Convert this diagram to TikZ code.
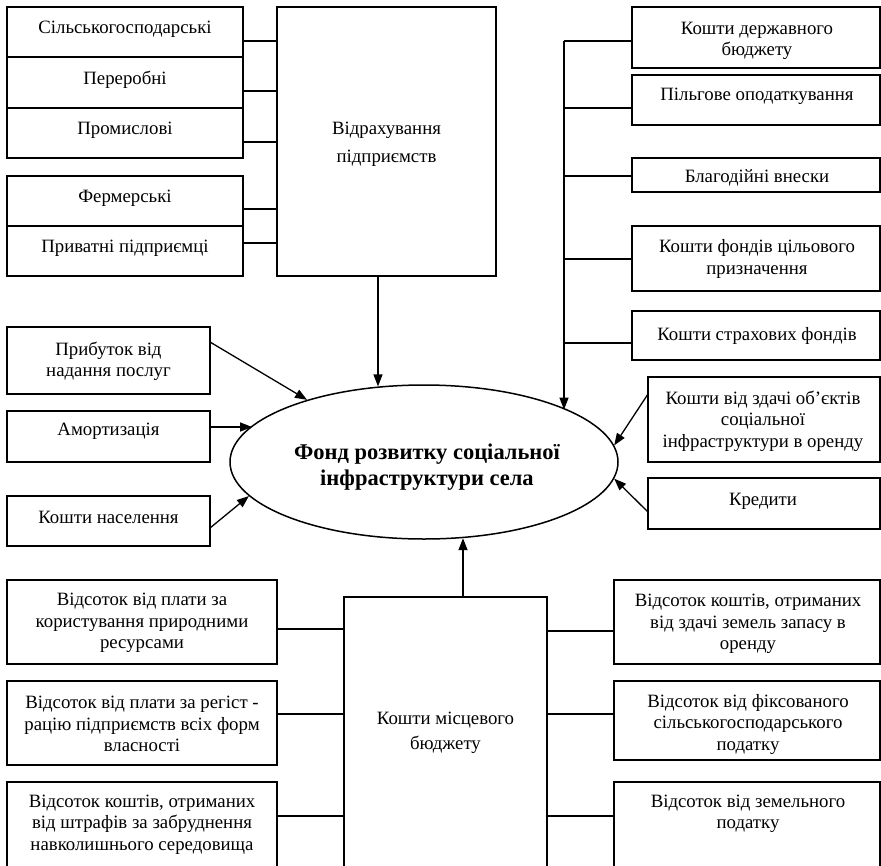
\documentclass[tikz,border=0pt]{standalone}
\usepackage{fontspec}
\setmainfont{Liberation Serif}
\usetikzlibrary{arrows.meta,shapes.geometric}
\begin{document}
\begin{tikzpicture}[x=1pt,y=-1pt,
  box/.style={draw, line width=1.3pt, inner sep=0pt, outer sep=0pt, anchor=north west},
  txt/.style={align=center, inner sep=0pt, yshift=-2pt, font=\fontsize{18.8}{21.5}\selectfont},
  conn/.style={line width=1.3pt},
  arr/.style={line width=1.3pt, -{Triangle[length=12pt,width=9pt]}},
  fundst/.style={draw, ellipse, line width=1.5pt, inner sep=0pt, minimum width=388pt, minimum height=154pt},
]
\useasboundingbox (0,0) rectangle (881,865);

% top-left group
\node[box, minimum width=236pt, minimum height=50pt] (s1) at (7,7) {};
\node[box, minimum width=236pt, minimum height=51pt] (s2) at (7,57) {};
\node[box, minimum width=236pt, minimum height=50pt] (s3) at (7,108) {};
\node[box, minimum width=236pt, minimum height=50pt] (s4) at (7,176) {};
\node[box, minimum width=236pt, minimum height=50pt] (s5) at (7,226) {};
\node[box, minimum width=219pt, minimum height=269pt] (vid) at (277,7) {};
\node[txt] (s1t) at (125,27) {Сільськогосподарські};
\node[txt] (s2t) at (125,78) {Переробні};
\node[txt] (s3t) at (125,128) {Промислові};
\node[txt] (s4t) at (125,196) {Фермерські};
\node[txt] (s5t) at (125,246) {Приватні підприємці};
\node[txt, font=\fontsize{18.8}{28}\selectfont] (vidt) at (386.5,142) {Відрахування\\підприємств};

% top-right group
\node[box, minimum width=248pt, minimum height=61pt] (r1) at (632,7) {};
\node[box, minimum width=248pt, minimum height=50pt] (r2) at (632,75) {};
\node[box, minimum width=248pt, minimum height=34pt] (r3) at (632,158) {};
\node[box, minimum width=248pt, minimum height=65pt] (r4) at (632,226) {};
\node[box, minimum width=248pt, minimum height=49pt] (r5) at (632,311) {};
\node[txt] (r1t) at (757,39) {Кошти державного\\бюджету};
\node[txt] (r2t) at (757,94) {Пільгове оподаткування};
\node[txt] (r3t) at (757,176) {Благодійні внески};
\node[txt] (r4t) at (757,257) {Кошти фондів цільового\\призначення};
\node[txt] (r5t) at (757,334) {Кошти страхових фондів};

% right middle
\node[box, minimum width=232pt, minimum height=85pt] (r6) at (648,377) {};
\node[box, minimum width=232pt, minimum height=51pt] (r7) at (648,478) {};
\node[txt] (r6t) at (763,419) {Кошти від здачі об’єктів\\соціальної\\інфраструктури в оренду};
\node[txt] (r7t) at (763,499) {Кредити};

% left middle
\node[box, minimum width=203pt, minimum height=67pt] (l1) at (7,327) {};
\node[box, minimum width=203pt, minimum height=51pt] (l2) at (7,411) {};
\node[box, minimum width=203pt, minimum height=50pt] (l3) at (7,496) {};
\node[txt] (l1t) at (108.5,359.5) {Прибуток від\\надання послуг};
\node[txt] (l2t) at (108.5,429) {Амортизація};
\node[txt] (l3t) at (108.5,515) {Кошти населення};

% central ellipse
\node[fundst] (fund) at (424,462) {};
\node[txt, font=\fontsize{22.5}{26.5}\selectfont\bfseries] (fundt) at (427,465) {Фонд розвитку соціальної\\інфраструктури села};

% bottom
\node[box, minimum width=203pt, minimum height=290pt] (mb) at (344,597) {};
\node[txt, font=\fontsize{18.8}{25.5}\selectfont] (mbt) at (445.5,731) {Кошти місцевого\\бюджету};
\node[box, minimum width=270pt, minimum height=84pt] (b1) at (7,580) {};
\node[box, minimum width=270pt, minimum height=84pt] (b2) at (7,681) {};
\node[box, minimum width=270pt, minimum height=100pt] (b3) at (7,782) {};
\node[txt] (b1t) at (142,621) {Відсоток від плати за\\користування природними\\ресурсами};
\node[txt] (b2t) at (142,722) {Відсоток від плати за регіст -\\рацію підприємств всіх форм\\власності};
\node[txt] (b3t) at (142,822.5) {Відсоток коштів, отриманих\\від штрафів за забруднення\\навколишнього середовища};
\node[box, minimum width=266pt, minimum height=84pt] (c1) at (614,580) {};
\node[box, minimum width=266pt, minimum height=79pt] (c2) at (614,681) {};
\node[box, minimum width=266pt, minimum height=100pt] (c3) at (614,782) {};
\node[txt] (c1t) at (748,622) {Відсоток коштів, отриманих\\від здачі земель запасу в\\оренду};
\node[txt] (c2t) at (748,722) {Відсоток від фіксованого\\сільськогосподарського\\податку};
\node[txt] (c3t) at (748,812) {Відсоток від земельного\\податку};

% connectors: top-left
\foreach \n/\o in {s1/34,s2/34,s3/34,s4/33,s5/17}{
  \coordinate (\n k) at ([yshift=-\o pt]\n.north east);
  \draw[conn] (\n k) -- (\n k -| vid.west);
}
\coordinate (vk) at ([xshift=-8.5pt]vid.south);
\draw[arr] (vk) -- (vk |- fund.121.8);

% connectors: top-right bus
\coordinate (bus) at (564,41);
\foreach \n/\o in {r1/34,r2/33,r3/18,r4/33,r5/32}{
  \coordinate (\n k) at ([yshift=-\o pt]\n.north west);
  \draw[conn] (bus |- \n k) -- (\n k);
}
\draw[arr] (bus) -- (bus |- fund.20.7);

% side arrows
\coordinate (l1k) at ([yshift=-15pt]l1.north east);
\draw[arr] (l1k) -- (fund.152);
\coordinate (l2k) at ([yshift=-16pt]l2.north east);
\draw[arr] (l2k) -- (l2k -| fund.168.5);
\coordinate (l3k) at ([yshift=-32pt]l3.north east);
\draw[arr] (l3k) -- (fund.191.5);
\coordinate (r6k) at ([yshift=-17pt]r6.north west);
\draw[arr] (r6k) -- (fund.5.5);
\coordinate (r7k) at ([yshift=-34pt]r7.north west);
\draw[arr] (r7k) -- (fund.-5.5);

% bottom
\coordinate (mk) at ([xshift=17.5pt]mb.north);
\draw[arr] (mk) -- (mk |- fund.297.4);
\foreach \n/\o in {b1/49,b2/33,b3/34}{
  \coordinate (\n k) at ([yshift=-\o pt]\n.north east);
  \draw[conn] (\n k) -- (\n k -| mb.west);
}
\foreach \n/\o in {c1/51,c2/33,c3/34}{
  \coordinate (\n k) at ([yshift=-\o pt]\n.north west);
  \draw[conn] (\n k -| mb.east) -- (\n k);
}
\end{tikzpicture}
\end{document}
